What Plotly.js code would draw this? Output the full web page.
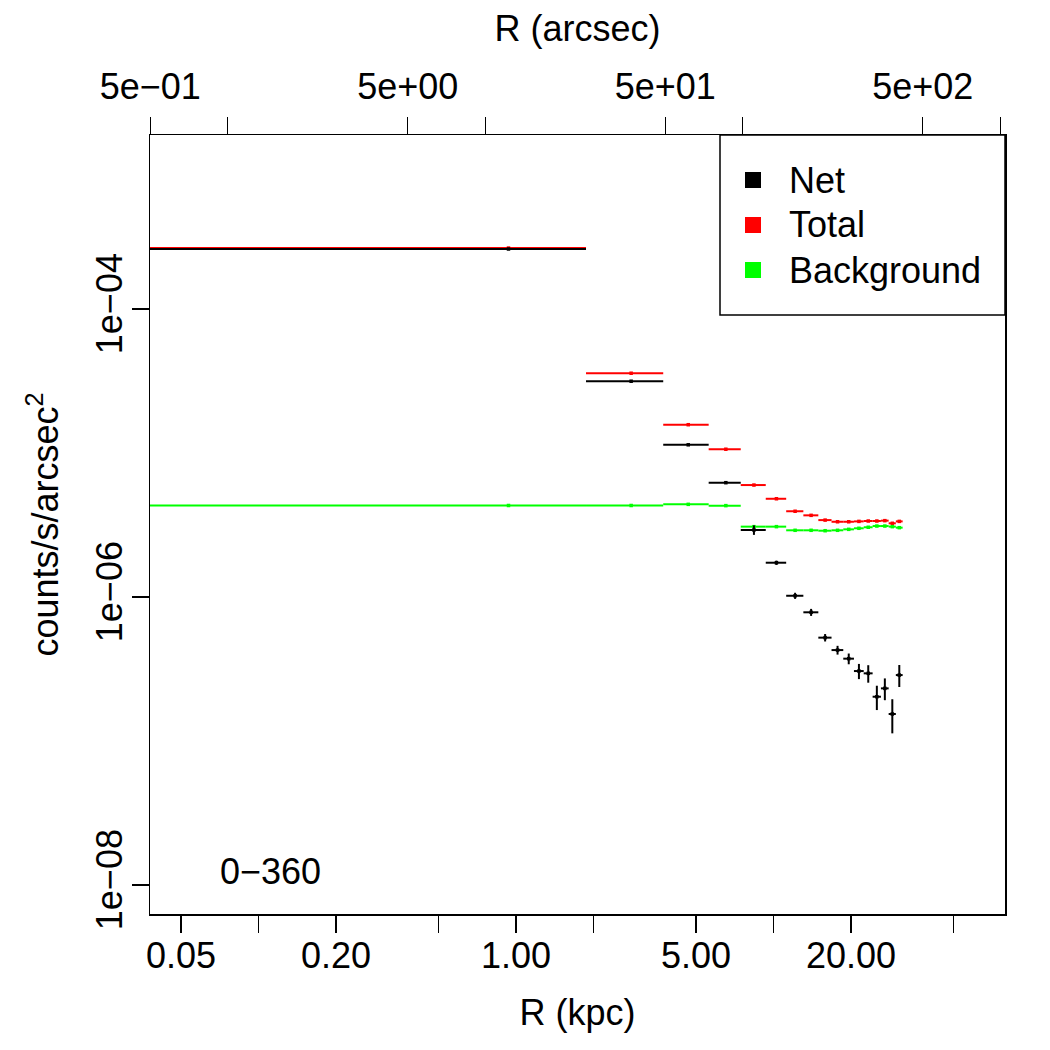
<!DOCTYPE html>
<html>
<head>
<meta charset="utf-8">
<script src="https://cdn.plot.ly/plotly-3.0.1.min.js"></script>
<style>html,body{margin:0;padding:0;background:#fff;}</style>
</head>
<body>
<div id="chart" style="width:1050px;height:1050px;"></div>
<script>
// Annular bins in kpc: inner and outer edge of each ring
const binInner = [0, 1.87, 3.73, 5.60, 7.46, 9.33, 11.20, 13.06, 14.93, 16.80, 18.66, 20.53, 22.40, 24.26, 26.13, 28.00, 29.86];
const binOuter = [1.87, 3.73, 5.60, 7.46, 9.33, 11.20, 13.06, 14.93, 16.80, 18.66, 20.53, 22.40, 24.26, 26.13, 28.00, 29.86, 31.73];

// Surface brightness profiles (counts/s/arcsec^2) with 1-sigma errors
const netSB    = [2.61e-4, 3.15e-5, 1.14e-5, 6.22e-6, 2.92e-6, 1.73e-6, 1.02e-6, 7.83e-7, 5.22e-7, 4.28e-7, 3.73e-7, 3.06e-7, 2.95e-7, 2.03e-7, 2.32e-7, 1.54e-7, 2.87e-7];
const netErr   = [2.0e-6, 3.0e-7, 1.5e-7, 1.0e-7, 2.2e-7, 6.0e-8, 5.0e-8, 4.4e-8, 3.1e-8, 3.0e-8, 3.2e-8, 3.7e-8, 4.1e-8, 3.9e-8, 4.0e-8, 4.1e-8, 5.0e-8];
const totalSB  = [2.65e-4, 3.58e-5, 1.572e-5, 1.062e-5, 5.99e-6, 4.81e-6, 3.94e-6, 3.69e-6, 3.42e-6, 3.33e-6, 3.33e-6, 3.35e-6, 3.37e-6, 3.37e-6, 3.39e-6, 3.25e-6, 3.35e-6];
const totalErr = [1.5e-6, 3.0e-7, 1.5e-7, 1.0e-7, 8.0e-8, 5.0e-8, 4.5e-8, 4.0e-8, 3.0e-8, 3.0e-8, 3.0e-8, 3.5e-8, 3.8e-8, 3.8e-8, 3.8e-8, 4.0e-8, 4.5e-8];
const bgSB     = [4.32e-6, 4.32e-6, 4.40e-6, 4.31e-6, 3.08e-6, 3.08e-6, 2.905e-6, 2.905e-6, 2.886e-6, 2.905e-6, 2.95e-6, 3.00e-6, 3.05e-6, 3.11e-6, 3.11e-6, 3.08e-6, 3.03e-6];
const bgErr    = [1.5e-8, 1.5e-8, 1.5e-8, 1.5e-8, 1.5e-8, 1.5e-8, 1.5e-8, 1.5e-8, 1.5e-8, 1.5e-8, 1.5e-8, 1.5e-8, 1.5e-8, 1.5e-8, 1.5e-8, 1.5e-8, 1.5e-8];

// Axis ticks: labelled major ticks and unlabelled minor ticks
const kpcTicks         = [0.05, 0.2, 1, 5, 20];
const kpcTickText      = ['0.05', '0.20', '1.00', '5.00', '20.00'];
const kpcMinorTicks    = [0.1, 0.5, 2, 10, 50];
const arcsecTicks      = [0.5, 5, 50, 500];
const arcsecTickText   = ['5e\u221201', '5e+00', '5e+01', '5e+02'];
const arcsecMinorTicks = [1, 10, 100, 1000];
const sbTicks          = [1e-8, 1e-6, 1e-4];
const sbTickText       = ['1e\u221208', '1e\u221206', '1e\u221204'];

// Series names and colours (legend order)
const seriesNames  = ['Net', 'Total', 'Background'];
const seriesColors = ['#000000', '#ff0000', '#00ff00'];
const sectorLabel  = '0\u2212360';

const FONT = 'Liberation Sans, Arial, Helvetica, sans-serif';

// bin centres and half-widths from the ring edges
const rMid   = binInner.map((a, i) => (a + binOuter[i]) / 2);
const rPlus  = binOuter.map((b, i) => b - rMid[i]);
const rMinus = binInner.map((a, i) => rMid[i] - a);

function profileTrace(name, color, y, err) {
  return {
    type: 'scatter', mode: 'markers', name: name, showlegend: false,
    x: rMid, y: y, xaxis: 'x', yaxis: 'y',
    marker: {symbol: 'square', size: 3.5, color: color},
    error_x: {type: 'data', symmetric: false, array: rPlus, arrayminus: rMinus,
              color: color, thickness: 2, width: 0},
    error_y: {type: 'data', array: err, color: color, thickness: 2, width: 0},
    hoverinfo: 'x+y'
  };
}

const traces = [
  profileTrace(seriesNames[1], seriesColors[1], totalSB, totalErr),
  profileTrace(seriesNames[2], seriesColors[2], bgSB, bgErr),
  profileTrace(seriesNames[0], seriesColors[0], netSB, netErr),
  // empty trace that attaches the arcsec scale along the top
  {type: 'scatter', mode: 'markers', x: arcsecTicks, y: arcsecTicks.map(() => null),
   xaxis: 'x2', yaxis: 'y', showlegend: false, hoverinfo: 'skip'}
];

const minorCommon = {ticks: 'outside', ticklen: 17, tickwidth: 1.3, tickcolor: '#000', showgrid: false};
const axisCommon = {
  type: 'log', showgrid: false, zeroline: false,
  showline: true, linecolor: '#000', linewidth: 1.5,
  ticks: 'outside', ticklen: 17, tickwidth: 1.3, tickcolor: '#000',
  tickfont: {family: FONT, size: 36, color: '#000'}
};

// legend box drawn in paper coordinates
const W = 1050, H = 1050, L = 150, R = 45, T = 135, B = 136;
const pw = W - L - R, ph = H - T - B;
const px = x => (x - L) / pw;
const py = y => (H - B - y) / ph;

const shapes = [{
  type: 'rect', xref: 'paper', yref: 'paper',
  x0: px(720), x1: 1, y0: py(315), y1: 1,
  line: {color: '#000', width: 1.5}, fillcolor: '#fff', layer: 'above'
}];
const annotations = [];
const rowY = [180, 225, 270];
seriesNames.forEach((nm, i) => {
  shapes.push({
    type: 'rect', xref: 'paper', yref: 'paper',
    x0: px(745), x1: px(761), y0: py(rowY[i] + 8), y1: py(rowY[i] - 8),
    line: {width: 0}, fillcolor: seriesColors[i], layer: 'above'
  });
  annotations.push({
    xref: 'paper', yref: 'paper', x: px(787), y: py(rowY[i]),
    xanchor: 'left', yanchor: 'middle', showarrow: false, text: nm,
    font: {family: FONT, size: 36, color: '#000'}
  });
});
annotations.push({
  xref: 'paper', yref: 'paper', x: px(270), y: py(871),
  xanchor: 'center', yanchor: 'middle', showarrow: false, text: sectorLabel,
  font: {family: FONT, size: 36, color: '#000'}
});

const layout = {
  width: W, height: H,
  margin: {l: L, r: R, t: T, b: B, pad: 0},
  paper_bgcolor: '#fff', plot_bgcolor: '#fff',
  showlegend: false,
  font: {family: FONT, size: 36, color: '#000'},
  xaxis: Object.assign({}, axisCommon, {
    range: [-1.4214, 1.899],
    tickmode: 'array', tickvals: kpcTicks, ticktext: kpcTickText,
    minor: Object.assign({tickmode: 'array', tickvals: kpcMinorTicks}, minorCommon),
    ticklabelstandoff: -8,
    title: {text: 'R (kpc)', font: {family: FONT, size: 36}, standoff: 25}
  }),
  xaxis2: Object.assign({}, axisCommon, {
    overlaying: 'x', side: 'top', anchor: 'y',
    range: [-0.302, 3.0184],
    tickmode: 'array', tickvals: arcsecTicks, ticktext: arcsecTickText,
    minor: Object.assign({tickmode: 'array', tickvals: arcsecMinorTicks}, minorCommon),
    ticklabelstandoff: 3,
    title: {text: 'R (arcsec)', font: {family: FONT, size: 36}, standoff: 13}
  }),
  yaxis: Object.assign({}, axisCommon, {
    range: [-8.2014, -2.7917], mirror: true,
    tickmode: 'array', tickvals: sbTicks, ticktext: sbTickText,
    tickangle: -90, ticklabelstandoff: -5,
    title: {text: 'counts/s/arcsec<sup>2</sup>', font: {family: FONT, size: 36}, standoff: 19}
  }),
  shapes: shapes,
  annotations: annotations
};

Plotly.newPlot('chart', traces, layout, {displayModeBar: false, staticPlot: true});
</script>
</body>
</html>
